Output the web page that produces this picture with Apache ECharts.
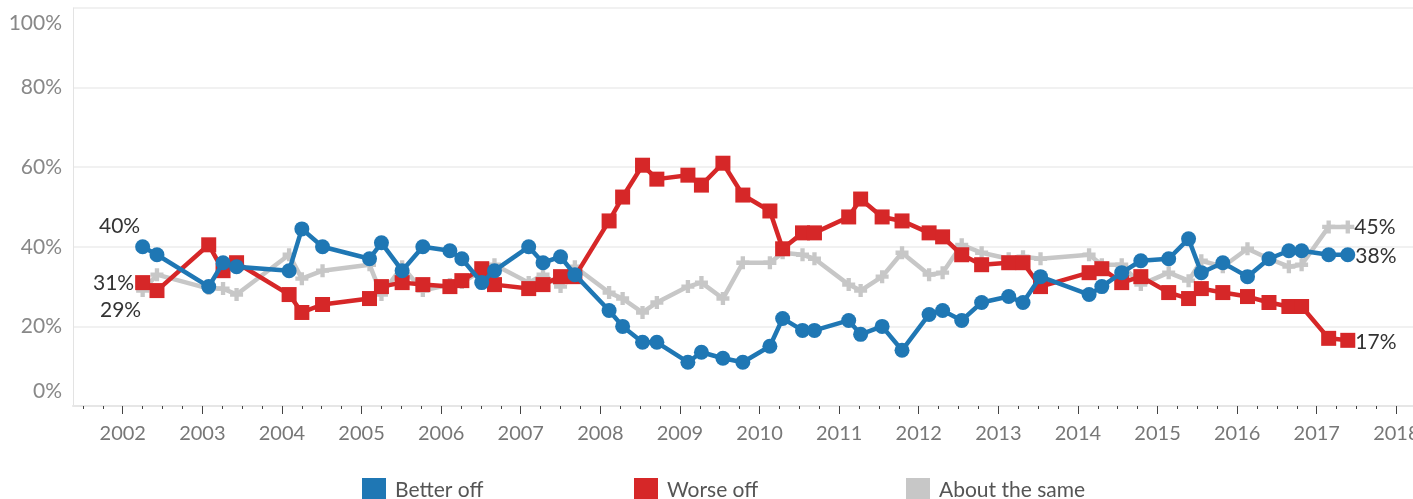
<!DOCTYPE html>
<html>
<head>
<meta charset="utf-8">
<script src="https://cdn.jsdelivr.net/npm/echarts@6/dist/echarts.min.js"></script>
<style>
html,body{margin:0;padding:0;background:#fff;overflow:hidden;width:1413px;height:499px;}
#chart{width:1430px;height:499px;}
</style>
</head>
<body>
<div id="chart"></div>
<script>
// Survey dates (decimal years)
const dates = [2002.25,2002.43,2003.08,2003.26,2003.43,2004.09,2004.25,2004.51,2005.10,2005.25,2005.51,2005.77,2006.11,2006.26,2006.51,2006.67,2007.10,2007.28,2007.50,2007.68,2008.11,2008.28,2008.53,2008.71,2009.10,2009.27,2009.54,2009.79,2010.13,2010.29,2010.54,2010.69,2011.12,2011.27,2011.54,2011.79,2012.13,2012.30,2012.54,2012.79,2013.13,2013.31,2013.53,2014.14,2014.30,2014.55,2014.79,2015.14,2015.39,2015.55,2015.82,2016.13,2016.40,2016.65,2016.81,2017.15,2017.39];
const betterOff = [40,38,30,36,35,34,44.5,40,37,41,34,40,39,37,31,34,40,36,37.5,33,24,20,16,16,11,13.5,12,11,15,22,19,19,21.5,18,20,14,23,24,21.5,26,27.5,26,32.5,28,30,33.5,36.5,37,42,33.5,36,32.5,37,39,39,38,38];
const worseOff = [31,29,40.5,34,36,28,23.5,25.5,27,30,31,30.5,30,31.5,34.5,30.5,29.5,30.5,32.5,32.5,46.5,52.5,60.5,57,58,55.5,61,53,49,39.5,43.5,43.5,47.5,52,47.5,46.5,43.5,42.5,38,35.5,36,36,30,33.5,34.5,31,32.5,28.5,27,29.5,28.5,27.5,26,25,25,17,16.5];
const aboutSame = [29,33,29.5,29.5,28,38,32,34,35.5,28,35,29,30.5,31,34,35.5,31,33,30,35,28.5,27,23.5,26,30,31,27,36,36,38.5,38,37,30.5,29,32.5,38.5,33,33.5,40.5,38.5,37,37.5,37,38,35.5,35.5,30.5,33.5,31.5,36.5,35,39.5,37,35,35.5,45,45];
const yearTicks = [2002,2003,2004,2005,2006,2007,2008,2009,2010,2011,2012,2013,2014,2015,2016,2017,2018];
const seriesNames = ['Better off','Worse off','About the same'];
const colors = ['#1f77b4','#d62728','#c7c7c7'];

const quarterTicks = [];
for (let q = 2001.5; q <= 2018.3; q += 0.25) {
  if (Math.abs(q - Math.round(q)) > 1e-6) quarterTicks.push(q);
}

const labelFont = {fontFamily:'Lato', fontSize:21, color:'#333'};
function build(vals, firstLbl, lastLbl) {
  return vals.map((v, i) => {
    const item = {value:[dates[i], v]};
    const pct = Math.round(v) + '%';
    if (i === 0) item.label = Object.assign({show:true, formatter:pct}, labelFont, firstLbl);
    if (i === vals.length - 1) item.label = Object.assign({show:true, formatter:pct}, labelFont, lastLbl);
    return item;
  });
}

const plusPath = 'path://M4,0h4v4h4v4h-4v4h-4v-4h-4v-4h4z';
const xMin = 2001.375, xMax = 2018.4606;

const chart = echarts.init(document.getElementById('chart'), null, {renderer:'canvas'});
chart.setOption({
  animation:false,
  backgroundColor:'#fff',
  grid:{left:73, right:-3, top:8, bottom:93, containLabel:false, outerBoundsMode:'none'},
  xAxis:[{
    type:'value', min:xMin, max:xMax,
    axisLine:{show:true, lineStyle:{color:'#e6e6e6', width:2}},
    axisTick:{show:true, length:8, customValues:yearTicks, lineStyle:{color:'#444', width:1}},
    axisLabel:{customValues:yearTicks, formatter:v => String(Math.round(v)), fontFamily:'Lato', fontSize:20, color:'#777', margin:18},
    splitLine:{show:false}, minorSplitLine:{show:false}
  },{
    type:'value', min:xMin, max:xMax, position:'bottom', offset:0,
    axisLine:{show:false},
    axisTick:{show:true, length:3, customValues:quarterTicks, lineStyle:{color:'#444', width:1}},
    axisLabel:{show:false},
    splitLine:{show:false}, minorSplitLine:{show:false}
  }],
  yAxis:{
    type:'value', min:0, max:100, interval:20,
    axisLine:{show:true, lineStyle:{color:'#e3e3e3', width:1}},
    axisTick:{show:false},
    axisLabel:{formatter:'{value}%', fontFamily:'Lato', fontSize:21, color:'#888', margin:11, lineHeight:30,
      verticalAlignMinLabel:'bottom', verticalAlignMaxLabel:'top'},
    splitLine:{show:true, lineStyle:{color:'#ececec', width:1.5}}
  },
  legend:[0,1,2].map(i => ({
    left:[362,634,906][i], top:478, orient:'horizontal', padding:0,
    itemWidth:24, itemHeight:24, itemGap:5,
    data:[{name:seriesNames[i], icon:'rect', itemStyle:{color:colors[i]}}],
    textStyle:{fontFamily:'Lato', fontSize:21, color:'#555', padding:[0,0,0,4]},
    selectedMode:false
  })),
  series:[
    {
      name:seriesNames[2], type:'line', z:2, symbol:plusPath, symbolSize:13,
      lineStyle:{color:colors[2], width:4.5}, itemStyle:{color:colors[2]},
      data:build(aboutSame, {position:'left', distance:0, offset:[5,20]}, {position:'right', distance:0, offset:[0,0]})
    },
    {
      name:seriesNames[1], type:'line', z:3, symbol:'rect', symbolSize:15,
      lineStyle:{color:colors[1], width:4.5}, itemStyle:{color:colors[1]},
      data:build(worseOff, {position:'left', distance:1, offset:[0,1]}, {position:'right', distance:0, offset:[0,2]})
    },
    {
      name:seriesNames[0], type:'line', z:4, symbol:'circle', symbolSize:15,
      lineStyle:{color:colors[0], width:4.5}, itemStyle:{color:colors[0]},
      data:build(betterOff, {position:'left', distance:0, offset:[5,-21]}, {position:'right', distance:0, offset:[0,1]})
    }
  ]
});
</script>
</body>
</html>
